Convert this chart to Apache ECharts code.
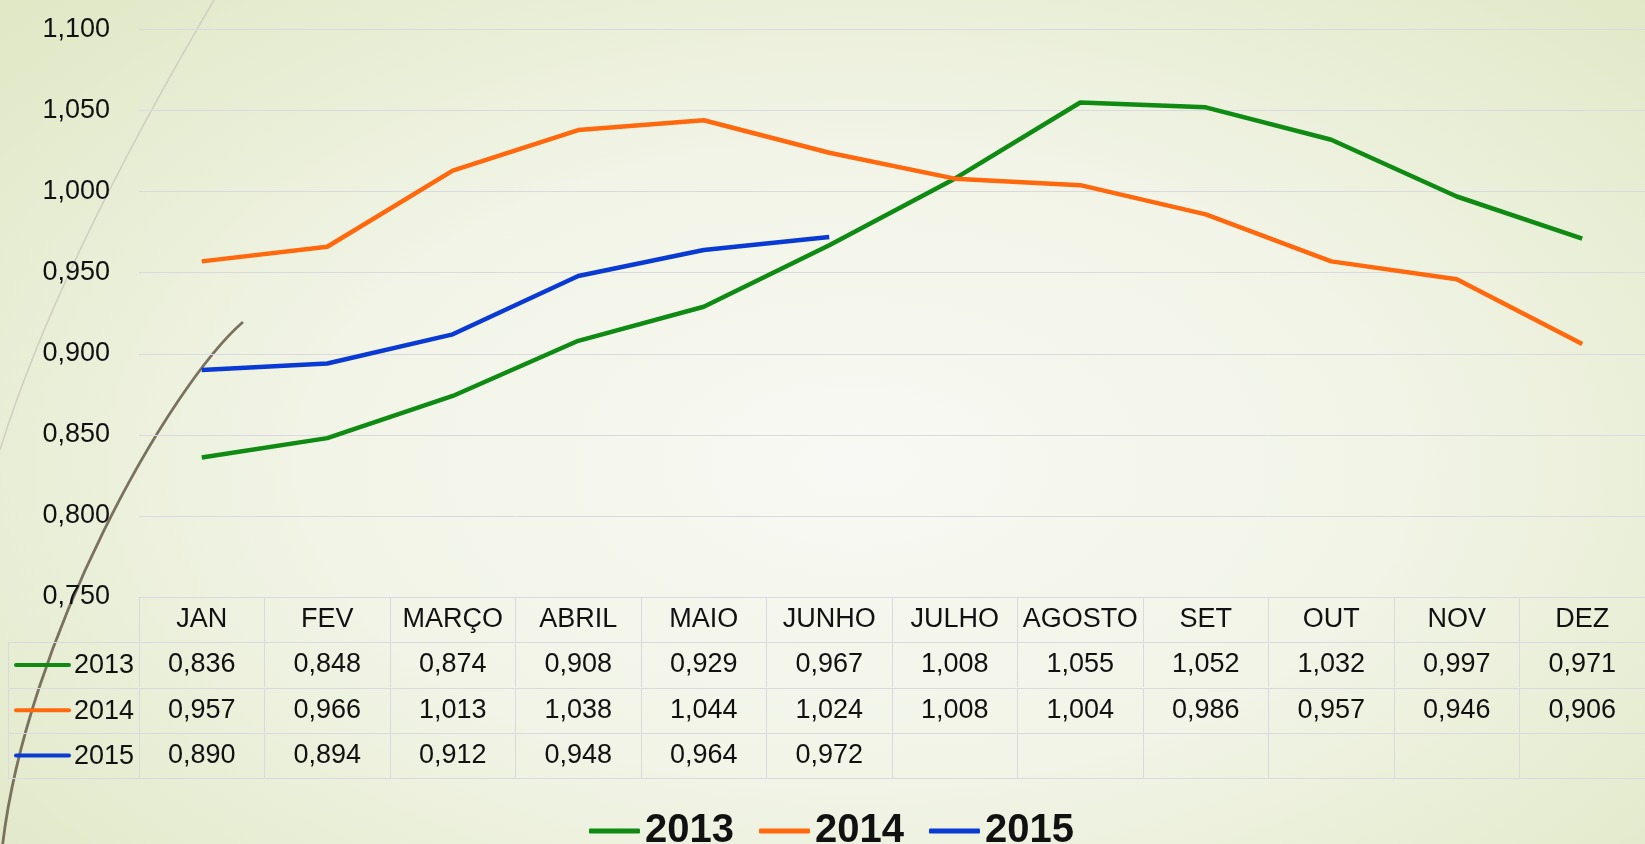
<!DOCTYPE html>
<html>
<head>
<meta charset="utf-8">
<script src="https://cdn.jsdelivr.net/npm/echarts@6/dist/echarts.min.js"></script>
<style>
    html, body { margin: 0; padding: 0; }
    body {
        width: 1645px; height: 844px; overflow: hidden;
        background: radial-gradient(ellipse 75% 85% at 52% 55%, #f8f9f4 0%, #f1f4e6 45%, #e3eacb 85%, #dde6c2 100%);
    }
    #chart { width: 1645px; height: 844px; }
</style>
</head>
<body>
<div id="chart"></div>
<script>
// chart data
const months = ['JAN', 'FEV', 'MARÇO', 'ABRIL', 'MAIO', 'JUNHO', 'JULHO', 'AGOSTO', 'SET', 'OUT', 'NOV', 'DEZ'];
const years = ['2013', '2014', '2015'];
const values2013 = [0.836, 0.848, 0.874, 0.908, 0.929, 0.967, 1.008, 1.055, 1.052, 1.032, 0.997, 0.971];
const values2014 = [0.957, 0.966, 1.013, 1.038, 1.044, 1.024, 1.008, 1.004, 0.986, 0.957, 0.946, 0.906];
const values2015 = [0.890, 0.894, 0.912, 0.948, 0.964, 0.972];
const yTicks = [0.75, 0.8, 0.85, 0.9, 0.95, 1.0, 1.05, 1.1];

document.addEventListener("DOMContentLoaded", () => {
    const font = "'Liberation Sans', Arial, sans-serif";
    const colors = ['#0f8a12', '#ff680c', '#0a3ad4'];
    const borderColor = '#d9d9df';
    const rows = [values2013, values2014, values2015];
    const fmt = v => (v == null ? '' : v.toFixed(3).replace('.', ','));
    const fs = 27;

    // table geometry (px)
    const tableTop = 597, rowH = 45.3, colLeft = 8, plotLeft = 139;

    // x axes: header row + one row per year + closing line
    const xAxes = [];
    xAxes.push({
        type: 'category', data: months, position: 'bottom', offset: 0,
        axisLine: { lineStyle: { color: borderColor, width: 1 } },
        axisTick: { show: true, interval: 0, length: rowH, lineStyle: { color: borderColor } },
        axisLabel: { interval: 0, margin: 9, fontSize: fs, color: '#111', fontFamily: font }
    });
    rows.forEach((vals, r) => {
        xAxes.push({
            type: 'category', data: months, position: 'bottom', offset: Math.round(rowH * (r + 1)),
            axisLine: { lineStyle: { color: borderColor, width: 1 } },
            axisTick: { show: true, interval: 0, length: rowH, lineStyle: { color: borderColor } },
            axisLabel: {
                interval: 0, margin: 9, fontSize: fs, color: '#111', fontFamily: font,
                formatter: (val, idx) => fmt(vals[idx])
            }
        });
    });
    xAxes.push({
        type: 'category', data: months, position: 'bottom', offset: Math.round(rowH * 4),
        axisLine: { lineStyle: { color: borderColor, width: 1 } },
        axisTick: { show: false }, axisLabel: { show: false }
    });

    // left column of the table: swatches, year names, borders
    const side = [];
    for (let i = 1; i <= 4; i++) {
        const y = Math.round(tableTop + rowH * i) + 0.5;
        side.push({ type: 'line', shape: { x1: colLeft, y1: y, x2: plotLeft, y2: y }, style: { stroke: borderColor, lineWidth: 1 } });
    }
    side.push({ type: 'line', shape: { x1: colLeft + 0.5, y1: Math.round(tableTop + rowH) + 0.5, x2: colLeft + 0.5, y2: Math.round(tableTop + rowH * 4) + 0.5 }, style: { stroke: borderColor, lineWidth: 1 } });
    years.forEach((yr, r) => {
        const cy = tableTop + rowH * (r + 1.5);
        side.push({ type: 'line', shape: { x1: 16, y1: cy, x2: 69, y2: cy }, style: { stroke: colors[r], lineWidth: 4, lineCap: 'round' }, z: 5 });
        side.push({ type: 'text', x: 74, y: cy + 1, style: { text: yr, font: fs + 'px ' + font, fill: '#111', textVerticalAlign: 'middle' }, z: 5 });
    });

    // theme decoration curves
    const deco = [
        { type: 'bezierCurve', shape: { x1: 214, y1: 0, cpx1: 120, cpy1: 160, cpx2: 40, cpy2: 320, x2: 0, y2: 450 }, style: { stroke: '#cfcfc2', lineWidth: 1.5, fill: null }, z: -1 },
        { type: 'bezierCurve', shape: { x1: 243, y1: 322, cpx1: 170, cpy1: 385, cpx2: 25, cpy2: 640, x2: 2, y2: 850 }, style: { stroke: '#7a725f', lineWidth: 2.8, fill: null }, z: -1 }
    ];

    echarts.init(document.getElementById('chart')).setOption({
        backgroundColor: 'transparent',
        color: colors,
        animation: false,
        grid: { left: plotLeft, top: 29.5, width: 1518, bottom: 844 - tableTop, containLabel: false },
        legend: {
            left: 584, top: 806,
            icon: 'roundRect', itemWidth: 51, itemHeight: 5, itemGap: 25,
            textStyle: { fontSize: 40, fontWeight: 'bold', color: '#111', fontFamily: font },
            data: years
        },
        xAxis: xAxes,
        yAxis: {
            type: 'value', min: yTicks[0], max: yTicks[yTicks.length - 1], interval: 0.05,
            axisLine: { show: false }, axisTick: { show: false },
            splitLine: { lineStyle: { color: borderColor, width: 1 } },
            axisLabel: { margin: 29, fontSize: fs, color: '#111', fontFamily: font, formatter: v => fmt(v) }
        },
        graphic: side.concat(deco),
        series: [values2013, values2014, values2015].map((vals, i) => ({
            name: years[i], type: 'line', data: vals, xAxisIndex: 0,
            symbol: 'none', lineStyle: { width: 4.5 }, z: 3 + i
        }))
    });
});
</script>
</body>
</html>
